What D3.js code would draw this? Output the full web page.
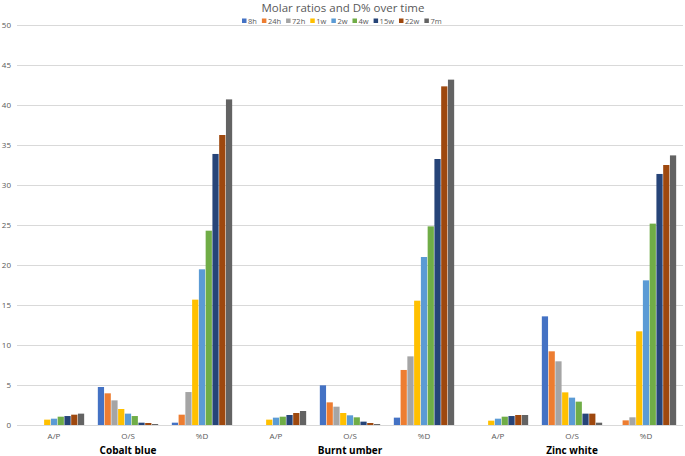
<!DOCTYPE html>
<html lang="en">
<head>
<meta charset="utf-8">
<title>Molar ratios and D% over time</title>
<script src="https://d3js.org/d3.v7.min.js"></script>
<style>
  body, html { margin: 0; padding: 0; background: #fff; }
  svg { display: block; }
  text { font-family: "Open Sans", sans-serif; fill: #595959; }
  .grid line { stroke: #d9d9d9; stroke-width: 1px; shape-rendering: crispEdges; }
  .title { font-size: 11.5px; }
  .legend text { font-size: 7.5px; }
  .axis text { font-size: 8px; }
  .group text { font-size: 10px; font-weight: bold; fill: #000; }
</style>
</head>
<body>
<svg id="chart" width="685" height="456"></svg>
<script>
// series (time points)
var series = ["8h", "24h", "72h", "1w", "2w", "4w", "15w", "22w", "7m"];
var colors = ["#4472C4", "#ED7D31", "#A5A5A5", "#FFC000", "#5B9BD5", "#70AD47", "#264478", "#9E480E", "#636363"];
var pigments = ["Cobalt blue", "Burnt umber", "Zinc white"];
var ratios = ["A/P", "O/S", "%D"];
var yTicks = [0, 5, 10, 15, 20, 25, 30, 35, 40, 45, 50];

// values per pigment: A/P, O/S, %D (one value per series)
var cobaltBlue = [
    [null, null, null, 0.67, 0.79, 1.04, 1.12, 1.29, 1.42],
    [4.75, 3.96, 3.08, 2.0, 1.42, 1.12, 0.29, 0.25, 0.12],
    [0.29, 1.29, 4.12, 15.67, 19.46, 24.29, 33.88, 36.25, 40.7]
];
var burntUmber = [
    [null, null, null, 0.67, 0.92, 1.04, 1.25, 1.5, 1.75],
    [4.96, 2.83, 2.29, 1.5, 1.21, 0.96, 0.42, 0.25, 0.12],
    [0.92, 6.88, 8.58, 15.54, 21.0, 24.83, 33.25, 42.33, 43.17]
];
var zincWhite = [
    [null, null, null, 0.54, 0.79, 1.04, 1.12, 1.25, 1.25],
    [13.58, 9.21, 7.96, 4.08, 3.42, 2.92, 1.42, 1.42, 0.29],
    [null, 0.58, 0.96, 11.71, 18.08, 25.17, 31.38, 32.5, 33.7]
];
var pigmentData = [cobaltBlue, burntUmber, zincWhite];

var svg = d3.select("#chart");
var plotLeft = 17, plotRight = 683, plotTop = 25, plotBottom = 425;

// one band per pigment/ratio category
var cats = [];
pigments.forEach(function(p, pi) {
    ratios.forEach(function(r, ri) {
        cats.push({ key: p + "|" + r, pigment: p, ratio: r, values: pigmentData[pi][ri] });
    });
});

var x0 = d3.scaleBand().domain(cats.map(function(d) { return d.key; }))
    .range([plotLeft, plotRight]).paddingInner(0.17).paddingOuter(0.085);
var x1 = d3.scaleBand().domain(series).range([0, x0.bandwidth()]).padding(0.08);
var y = d3.scaleLinear().domain([0, 50]).range([plotBottom, plotTop]);

// gridlines
svg.append("g").attr("class", "grid")
    .selectAll("line").data(yTicks).enter().append("line")
    .attr("x1", plotLeft).attr("x2", plotRight)
    .attr("y1", function(d) { return Math.round(y(d)) + 0.5; })
    .attr("y2", function(d) { return Math.round(y(d)) + 0.5; });

// y axis labels
svg.append("g").attr("class", "axis")
    .selectAll("text").data(yTicks).enter().append("text")
    .attr("x", 11).attr("y", function(d) { return y(d) + 3; })
    .attr("text-anchor", "end")
    .text(function(d) { return d; });

// bars
var catG = svg.selectAll(".cat").data(cats).enter().append("g")
    .attr("class", "cat")
    .attr("transform", function(d) { return "translate(" + x0(d.key) + ",0)"; });

catG.selectAll("rect")
    .data(function(d) {
        return d.values.map(function(v, i) { return { s: series[i], v: v, c: colors[i] }; })
            .filter(function(e) { return e.v !== null; });
    })
    .enter().append("rect")
    .attr("x", function(d) { return x1(d.s); })
    .attr("width", x1.bandwidth())
    .attr("y", function(d) { return y(d.v); })
    .attr("height", function(d) { return y(0) - y(d.v); })
    .attr("fill", function(d) { return d.c; });

// category labels
svg.append("g").attr("class", "axis")
    .selectAll("text").data(cats).enter().append("text")
    .attr("x", function(d) { return x0(d.key) + x0.bandwidth() / 2; })
    .attr("y", 439)
    .attr("text-anchor", "middle")
    .text(function(d) { return d.ratio; });

// pigment labels (centered under the middle category)
svg.append("g").attr("class", "group")
    .selectAll("text").data(pigments).enter().append("text")
    .attr("x", function(p) { return x0(p + "|O/S") + x0.bandwidth() / 2; })
    .attr("y", 454)
    .attr("text-anchor", "middle")
    .text(function(p) { return p; });

// title
svg.append("text").attr("class", "title")
    .attr("x", 343).attr("y", 12)
    .attr("text-anchor", "middle")
    .text("Molar ratios and D% over time");

// legend
var legend = svg.append("g").attr("class", "legend");
var lx = 242;
series.forEach(function(s, i) {
    var item = legend.append("g").attr("transform", "translate(" + lx + ",18)");
    item.append("rect").attr("y", 0.5).attr("width", 4.5).attr("height", 4.5).attr("fill", colors[i]);
    var t = item.append("text").attr("x", 6).attr("y", 5.5).text(s);
    lx += 6 + t.node().getComputedTextLength() + 5;
});
</script>
</body>
</html>
